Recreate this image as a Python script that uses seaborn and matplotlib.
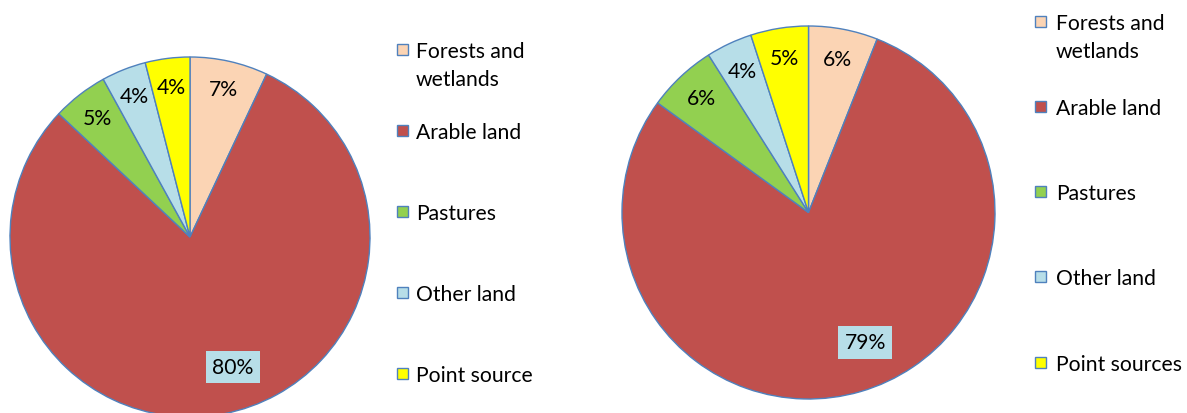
import matplotlib
matplotlib.use("Agg")
import matplotlib.pyplot as plt
import seaborn as sns
from matplotlib.patches import Rectangle
from matplotlib.transforms import Bbox, TransformedBbox
import numpy as np

# Source shares of the load (%), two catchments
categories = ["Forests and\nwetlands", "Arable land", "Pastures", "Other land", "Point sources"]
left_values = [7, 80, 5, 4, 4]
right_values = [6, 79, 6, 4, 5]
colors = ["#FBD4B4", "#C0504D", "#92D050", "#B7DEE8", "#FFFF00"]

sns.set_theme(style="white")
plt.rcParams["font.family"] = ["Lato", "DejaVu Sans"]
palette = sns.color_palette(colors)

W, H = 1187, 414
fig = plt.figure(figsize=(W / 100, H / 100), dpi=100)
fig.patch.set_facecolor("white")

EDGE = "#4F81BD"
FS = 15.2
FS_PX = FS * 100 / 72


def px_axes(cx, cy, r):
    """Axes whose unit circle has centre (cx, cy) and radius r in pixels (y from top)."""
    return fig.add_axes([(cx - r) / W, (H - cy - r) / H, 2 * r / W, 2 * r / H])


def draw_pie(ax, values):
    wedges, _, autotexts = ax.pie(
        values, colors=palette, startangle=90, counterclock=False, radius=1,
        autopct=lambda p: f"{p:.0f}%", pctdistance=0.84,
        wedgeprops=dict(edgecolor=EDGE, linewidth=1.0),
        textprops=dict(fontsize=FS, color="black"),
    )
    ax.set_xlim(-1, 1)
    ax.set_ylim(-1, 1)
    ax.set_aspect("auto")
    ax.axis("off")
    # the dominant slice gets its label lower down, on a light blue box
    big = int(np.argmax(values))
    w = wedges[big]
    mid = np.deg2rad((w.theta1 + w.theta2) / 2 + 7.5)
    t = autotexts[big]
    t.set_position((0.76 * np.cos(mid), 0.76 * np.sin(mid)))
    t.set_bbox(dict(facecolor="#B7DEE8", edgecolor="none", boxstyle="square,pad=0.3"))
    return wedges


def draw_legend(x_sq, x_txt, y0, step, sq, clip_right=None):
    for i, (lab, col) in enumerate(zip(categories, palette)):
        yc = y0 + i * step
        fig.patches.append(Rectangle((x_sq / W, (H - yc - sq / 2) / H), sq / W, sq / H,
                                     transform=fig.transFigure, facecolor=col,
                                     edgecolor=EDGE, linewidth=1.0))
        t = fig.text(x_txt / W, (H - yc + 0.373 * FS_PX + 0.5) / H, lab, fontsize=FS,
                     va="top", ha="left", color="black", linespacing=1.55)
        if clip_right is not None:
            t.set_clip_box(TransformedBbox(Bbox([[0, 0], [clip_right / W, 1]]), fig.transFigure))
            t.set_clip_on(True)


ax1 = px_axes(190, 238, 180)
draw_pie(ax1, left_values)
ax2 = px_axes(808.5, 213.5, 186.5)
draw_pie(ax2, right_values)

draw_legend(397, 416, 50, 81, 11, clip_right=533)
draw_legend(1035, 1056, 22, 85.25, 11)

fig.savefig("out.png", dpi=100, facecolor="white")
